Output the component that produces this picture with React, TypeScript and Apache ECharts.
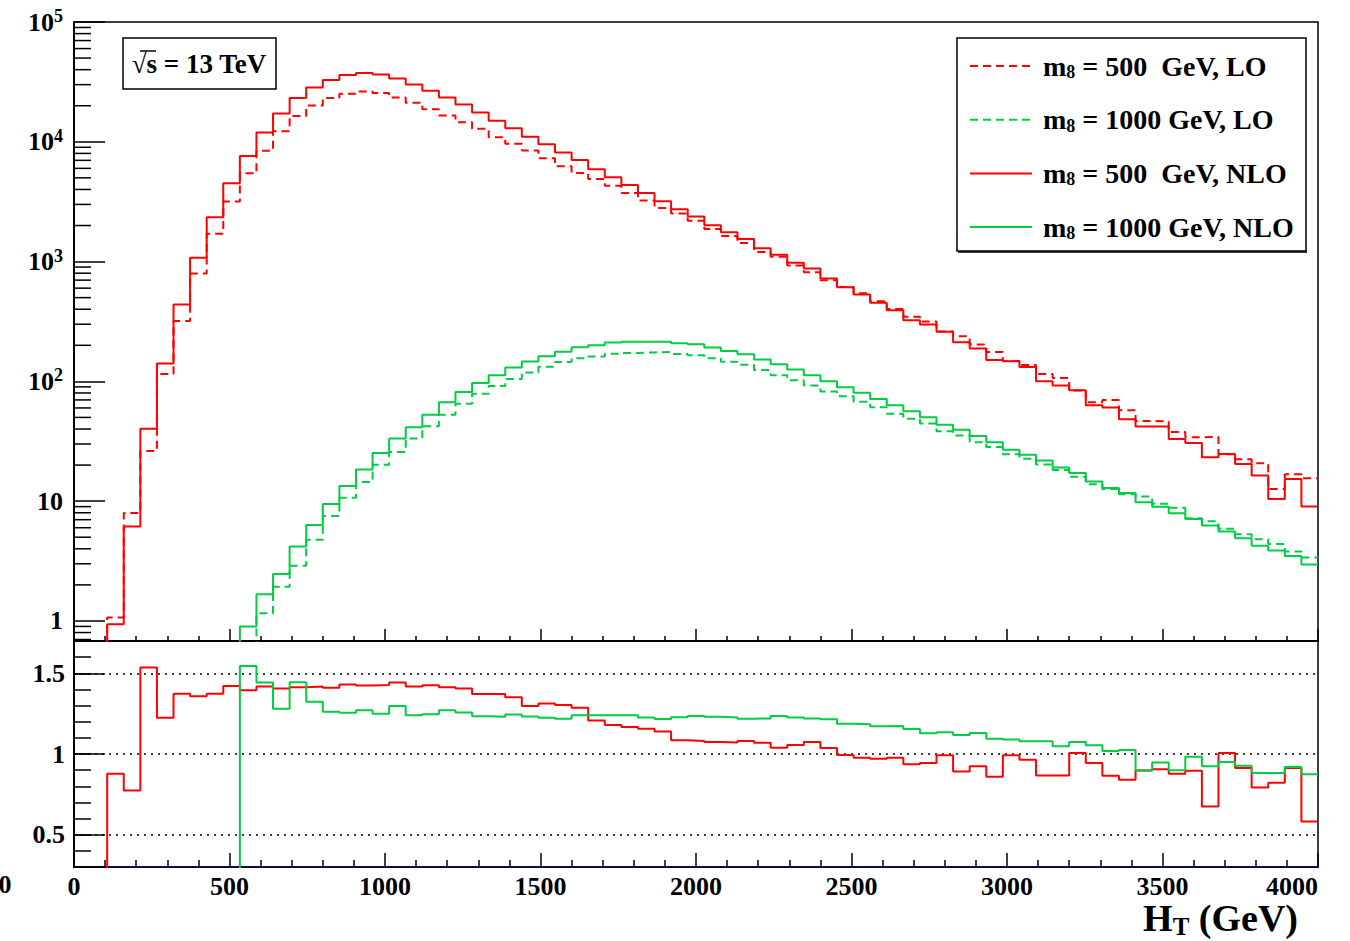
import React, { useEffect, useRef } from 'react';
import * as echarts from 'echarts';

// ---- binning ----
const X_MIN = 0;
const X_MAX = 4000;
const N_BINS = 75;

// ---- m8 = 500 GeV (red): NLO values (first non-empty bin = 2) and K = NLO/LO ----
const RED_FIRST_BIN = 2;
const RED_NLO = [
  0.94, 6.15, 40.3, 141, 439, 1078, 2340, 4510, 7620, 11960, 17250, 23170, 28460, 32740, 36060, 37500,
  36500, 33800, 30100, 26650, 23470, 20500, 17580, 14970, 13000, 11000, 9550, 8130, 7060, 5900, 5060,
  4360, 3740, 3190, 2730, 2373, 2015, 1754, 1542, 1289, 1142, 978, 877, 724, 609, 532, 453, 393, 324,
  299, 259, 212, 188, 151, 147, 132, 100, 92.3, 84.3, 63.1, 60.4, 48.2, 41.9, 41.9, 33.1, 30.6, 23.2,
  24.8, 20.4, 16.4, 10.4, 15.3, 9.03,
];
const RED_K = [
  0.878, 0.774, 1.536, 1.225, 1.373, 1.358, 1.373, 1.422, 1.395, 1.418, 1.406, 1.414, 1.418, 1.41, 1.43,
  1.424, 1.428, 1.443, 1.418, 1.426, 1.414, 1.406, 1.371, 1.371, 1.352, 1.298, 1.313, 1.304, 1.286, 1.207,
  1.18, 1.168, 1.157, 1.139, 1.085, 1.081, 1.075, 1.072, 1.081, 1.07, 1.039, 1.056, 1.075, 1.037, 0.994,
  0.977, 0.971, 0.977, 0.936, 0.944, 0.992, 0.892, 0.924, 0.859, 0.993, 0.965, 0.867, 0.867, 1.006, 0.944,
  0.865, 0.84, 0.898, 0.905, 0.878, 0.897, 0.675, 1.006, 0.913, 0.793, 0.822, 0.913, 0.582,
];

// ---- m8 = 1000 GeV (green) ----
const GREEN_FIRST_BIN = 10;
const GREEN_NLO = [
  0.9, 1.67, 2.47, 4.18, 6.31, 9.46, 13.4, 18.4, 25.2, 33.4, 41.3, 52.7, 66.8, 81.6, 97.1, 112.4, 130.4,
  146.4, 162, 177, 193, 200, 211, 214, 214, 214, 208, 204, 192, 179, 168, 152, 139, 125.5, 112.5, 100,
  89.3, 80.2, 71.4, 63.1, 56.2, 50.1, 43.5, 39.5, 35, 31, 26.9, 24.4, 21.8, 19.1, 17.2, 14.6, 12.9, 11.7,
  9.8, 9.0, 7.94, 7.08, 6.27, 5.58, 4.91, 4.24, 3.87, 3.49, 2.96,
];
const GREEN_K = [
  1.545, 1.443, 1.281, 1.445, 1.323, 1.261, 1.255, 1.271, 1.25, 1.298, 1.24, 1.247, 1.271, 1.257, 1.234,
  1.23, 1.244, 1.232, 1.224, 1.219, 1.24, 1.24, 1.24, 1.24, 1.226, 1.217, 1.228, 1.236, 1.23, 1.226, 1.219,
  1.22, 1.236, 1.226, 1.22, 1.215, 1.188, 1.184, 1.172, 1.174, 1.155, 1.128, 1.135, 1.118, 1.13, 1.095,
  1.09, 1.079, 1.079, 1.048, 1.075, 1.054, 1.019, 1.025, 0.898, 0.948, 0.9, 0.983, 0.924, 0.95, 0.927,
  0.882, 0.882, 0.919, 0.874,
];

// ---- axes ----
const LOG_MIN = 0.68;
const LOG_MAX = 1e5;
const LOG_DECADES = [0.1, 1, 10, 100, 1000, 10000];
const LOG_MINOR_MULTS = [2, 3, 4, 5, 6, 7, 8, 9];
const RATIO_MIN = 0.3;
const RATIO_MAX = 1.7;
const RATIO_LABELS = [0.5, 1, 1.5];
const X_INTERVAL = 500;

// ---- legend ----
const RED = '#ff0000';
const GREEN = '#00cc44';
const LEGEND = [
  { color: RED, dashed: true, label: '500  GeV, LO' },
  { color: GREEN, dashed: true, label: '1000 GeV, LO' },
  { color: RED, dashed: false, label: '500  GeV, NLO' },
  { color: GREEN, dashed: false, label: '1000 GeV, NLO' },
];

const DASH = [8, 5];
const FONT = 'Liberation Serif';

function stepData(first: number, vals: number[], floor: number) {
  const w = (X_MAX - X_MIN) / N_BINS;
  const pts: number[][] = [[X_MIN + (first - 1) * w, floor]];
  vals.forEach((v, i) => pts.push([X_MIN + (first + i) * w, v]));
  pts.push([X_MIN + (first + vals.length) * w, vals[vals.length - 1]]);
  return pts;
}

function lineSeries(data: number[][], color: string, dashed: boolean, xi: number, yi: number) {
  return {
    type: 'line',
    xAxisIndex: xi,
    yAxisIndex: yi,
    step: 'end',
    data,
    symbol: 'none',
    showSymbol: false,
    clip: true,
    silent: true,
    lineStyle: { color, width: 2, type: dashed ? DASH : 'solid' },
  };
}

export default function App() {
  const ref = useRef<HTMLDivElement>(null);
  useEffect(() => {
    if (!ref.current) return;
    const chart = echarts.init(ref.current, undefined, { renderer: 'svg' });

    const redLO = RED_NLO.map((v, i) => v / RED_K[i]);
    const greenLO = GREEN_NLO.map((v, i) => v / GREEN_K[i]);

    const minorVals: number[][] = [];
    LOG_DECADES.forEach((d) =>
      LOG_MINOR_MULTS.forEach((m) => {
        const v = d * m;
        if (v > LOG_MIN && v < LOG_MAX) minorVals.push([X_MIN, v]);
      })
    );

    const labelStyle = { fontFamily: FONT, fontWeight: 'bold', fontSize: 26, color: '#000' };

    const option: any = {
      animation: false,
      backgroundColor: '#fff',
      grid: [
        { left: 74, right: 32, top: 22, height: 619, show: true, borderColor: '#000', borderWidth: 1.5, backgroundColor: 'transparent' },
        { left: 74, right: 32, top: 641, height: 226, show: true, borderColor: '#000', borderWidth: 1.5, backgroundColor: 'transparent' },
      ],
      xAxis: [
        {
          gridIndex: 0, type: 'value', min: X_MIN, max: X_MAX, interval: X_INTERVAL,
          axisLine: { show: true, lineStyle: { color: '#000', width: 1.5 } },
          axisTick: { show: true, inside: true, length: 12, lineStyle: { color: '#000', width: 1.5 } },
          minorTick: { show: true, splitNumber: 5, length: 5, lineStyle: { color: '#000', width: 1.5 } },
          axisLabel: { show: false }, splitLine: { show: false },
        },
        {
          gridIndex: 1, type: 'value', min: X_MIN, max: X_MAX, interval: X_INTERVAL,
          axisLine: { show: true, lineStyle: { color: '#0a0a50', width: 2 } },
          axisTick: { show: true, inside: true, length: 14, lineStyle: { color: '#000', width: 1.5 } },
          minorTick: { show: true, splitNumber: 5, length: 7, lineStyle: { color: '#000', width: 1.5 } },
          axisLabel: { ...labelStyle, margin: 6, alignMaxLabel: 'right', formatter: (v: number) => String(v) },
          splitLine: { show: false },
        },
      ],
      yAxis: [
        {
          gridIndex: 0, type: 'log', logBase: 10, min: LOG_MIN, max: LOG_MAX,
          axisLine: { show: true, lineStyle: { color: '#000', width: 2 } },
          axisTick: { show: true, inside: true, length: 31, lineStyle: { color: '#000', width: 1.5 } },
          splitLine: { show: false },
          axisLabel: {
            ...labelStyle,
            margin: 11,
            formatter: (v: number) => {
              const l = Math.log10(v);
              const e = Math.round(l);
              if (Math.abs(l - e) > 1e-6 || e < 0) return '';
              if (e === 0) return '1';
              if (e === 1) return '10';
              return '10{sup|' + e + '}';
            },
            rich: {
              sup: { fontFamily: FONT, fontWeight: 'bold', fontSize: 18, verticalAlign: 'top', padding: [0, 0, 12, 0] },
            },
          },
        },
        {
          gridIndex: 1, type: 'value', min: RATIO_MIN, max: RATIO_MAX, splitNumber: 3, position: 'left',
          axisLine: { show: true, lineStyle: { color: '#000', width: 2 } },
          axisTick: { show: true, inside: true, length: 31, lineStyle: { color: '#000', width: 1.5 } },
          splitLine: { show: true, lineStyle: { color: '#000', width: 1.5, type: [2, 5] } },
          axisLabel: {
            ...labelStyle,
            margin: 9,
            formatter: (v: number) => (RATIO_LABELS.some((r) => Math.abs(r - v) < 1e-6) ? String(v) : ''),
          },
        },
        {
          gridIndex: 1, type: 'value', min: RATIO_MIN, max: RATIO_MAX, interval: 0.1, position: 'left',
          axisLine: { show: false },
          axisTick: { show: true, inside: true, length: 17, lineStyle: { color: '#000', width: 1.5 } },
          axisLabel: { show: false }, splitLine: { show: false },
        },
      ],
      series: [
        lineSeries(stepData(RED_FIRST_BIN, redLO, 1e-3), RED, true, 0, 0),
        lineSeries(stepData(GREEN_FIRST_BIN, greenLO, 1e-3), GREEN, true, 0, 0),
        lineSeries(stepData(RED_FIRST_BIN, RED_NLO, 1e-3), RED, false, 0, 0),
        lineSeries(stepData(GREEN_FIRST_BIN, GREEN_NLO, 1e-3), GREEN, false, 0, 0),
        lineSeries(stepData(RED_FIRST_BIN, RED_K, 0), RED, false, 1, 1),
        lineSeries(stepData(GREEN_FIRST_BIN, GREEN_K, 0), GREEN, false, 1, 1),
        {
          type: 'custom',
          xAxisIndex: 0,
          yAxisIndex: 0,
          data: minorVals,
          silent: true,
          renderItem: (_p: any, api: any) => {
            const p = api.coord([api.value(0), api.value(1)]);
            return {
              type: 'line',
              shape: { x1: p[0], y1: p[1], x2: p[0] + 17, y2: p[1] },
              style: { stroke: '#000', lineWidth: 1.5 },
            };
          },
        },
      ],
      graphic: [
        // sqrt(s) box
        { type: 'rect', shape: { x: 123, y: 38, width: 153, height: 51 }, style: { fill: '#fff', stroke: '#000', lineWidth: 1.5 }, z: 10 },
        { type: 'text', x: 199, y: 64, style: { text: '√s = 13 TeV', font: `bold 27px "${FONT}"`, fill: '#000', align: 'center', verticalAlign: 'middle' }, z: 11 },
        { type: 'line', shape: { x1: 140, y1: 51, x2: 156, y2: 51 }, style: { stroke: '#000', lineWidth: 1.5 }, z: 11 },
        // legend box
        { type: 'rect', shape: { x: 957, y: 38, width: 349, height: 213 }, style: { fill: '#fff', stroke: '#000', lineWidth: 1.5 }, z: 10 },
        { type: 'line', shape: { x1: 958, y1: 252, x2: 1307, y2: 252 }, style: { stroke: '#000', lineWidth: 1.5 }, z: 10 },
        ...LEGEND.flatMap((e, i) => {
          const y = 66 + i * 53.7;
          return [
            { type: 'line', shape: { x1: 970, y1: y, x2: 1032, y2: y }, style: { stroke: e.color, lineWidth: 2, lineDash: e.dashed ? DASH : null }, z: 11 },
            {
              type: 'text', x: 1043, y,
              style: {
                text: 'm{sub|8} = ' + e.label,
                font: `bold 28px "${FONT}"`, fill: '#000', verticalAlign: 'middle',
                rich: { sub: { font: `bold 18px "${FONT}"`, verticalAlign: 'bottom', padding: [12, 0, 0, 0] } },
              },
              z: 11,
            },
          ];
        }),
        // axis title
        {
          type: 'text', x: 1298, y: 918,
          style: {
            text: 'H{sub|T} (GeV)', font: `bold 38px "${FONT}"`, fill: '#000', align: 'right', verticalAlign: 'middle',
            rich: { sub: { font: `bold 25px "${FONT}"`, verticalAlign: 'bottom', padding: [16, 0, 0, 0] } },
          },
        },
        // stray zero label at far left
        { type: 'text', x: 5, y: 884, style: { text: '0', font: `bold 26px "${FONT}"`, fill: '#000', align: 'center', verticalAlign: 'middle' } },
      ],
    };
    chart.setOption(option);
    return () => chart.dispose();
  }, []);
  return <div ref={ref} style={{ position: 'absolute', left: 0, top: 0, width: 1350, height: 941 }} />;
}
